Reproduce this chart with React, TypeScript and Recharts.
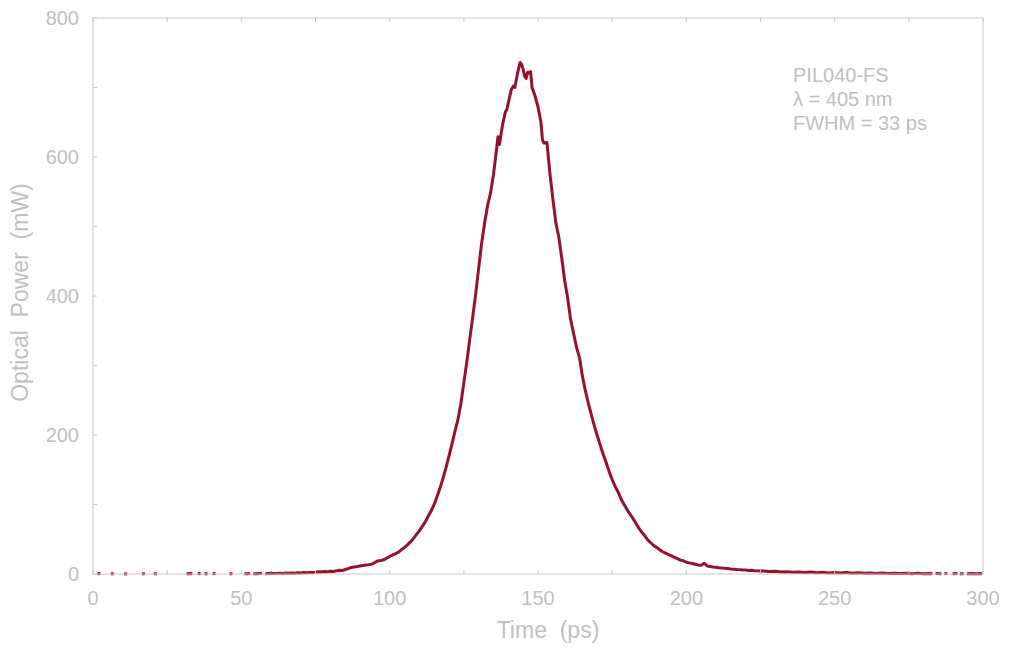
import React from 'react';
import { LineChart, Line, XAxis, YAxis } from 'recharts';

// time axis (ps); a null power marks a gap in the trace
const timePs = [
  1.5, 2.5, 4,
  6, 7, 8.5,
  10.5, 11.5, 13,
  16.5, 17.5, 19,
  20.5, 21.5, 26,
  31.5, 32.5, 33.5, 34.5,
  35.3, 36.3, 37,
  37.6, 38.6, 39.5,
  40.3, 41.3, 44,
  46, 47, 49,
  51, 52, 53, 53.5, 54, 55, 56, 57, 57.5,
  58, 59, 60, 61, 62, 63, 64, 65, 66, 67,
  68, 69, 70, 71, 72, 73, 74, 75, 76, 77,
  78, 79, 80, 81, 82, 83, 84, 85, 86, 87,
  88, 89, 90, 91, 92, 93, 94, 95, 96, 97,
  98, 99, 100, 101, 102, 103, 104, 105, 106, 107,
  108, 109, 110, 111, 112, 113, 114, 115, 116, 117,
  118, 119, 120, 121, 122, 123, 124, 125, 126, 127,
  128, 129, 130, 131, 132, 133, 134, 135,
  136, 136.5, 137, 138, 139, 139.5, 140, 141, 141.7, 142.2,
  143, 143.5, 144, 144.5, 145, 145.5, 146, 146.5, 147, 147.5,
  148, 149, 150, 151, 151.5, 152, 153, 154, 155, 156,
  157, 158, 159, 160, 161, 162, 163, 164, 165, 166,
  167, 168, 169, 170, 171, 172, 173, 174, 175, 176,
  177, 178, 179, 180, 181, 182, 183, 184, 185, 186,
  187, 188, 189, 190, 191, 192, 193, 194, 195, 196,
  197, 198, 199, 200, 201, 202, 203, 204, 205, 206,
  207, 208, 209, 210, 211, 212, 213, 214, 215, 216,
  217, 218, 219, 220, 221, 222, 223, 224, 225,
  226, 228, 230, 232, 234, 236, 238, 240, 242, 244,
  246, 248, 250, 252, 254, 256, 258, 260, 262, 264,
  266, 268, 270, 272, 274, 276, 278, 280, 282, 283, 283.5,
  284, 286, 286.5,
  287, 288, 289,
  289.7, 291.4, 291.8,
  292.2, 293.5, 294,
  294.6, 296, 297.5, 299, 299.7,
];

const powerMw = [
  0.3, 0.6, null,
  0.2, 0.4, null,
  0.3, 0.1, null,
  0.4, 0.2, null,
  0.3, 0.5, null,
  0.4, 0.7, 0.3, null,
  0.6, 0.2, null,
  0.4, 0.5, null,
  0.3, 0.6, null,
  0.4, 0.3, null,
  0.5, 0.3, 0.8, null, 0.5, 0.2, 0.6, 0.9, null,
  0.4, 0.7, 1.0, 0.6, 0.9, 1.2, 0.8, 1.3, 1.0, 1.5,
  1.2, 1.8, 1.4, 2.0, 1.7, 2.3, 2.0, 2.6, 3.3, 2.8,
  3.5, 3.1, 4.0, 3.6, 4.5, 5.3, 4.9, 6.5, 7.8, 9.5,
  10.2, 10.8, 11.6, 12.3, 12.9, 13.5, 14.2, 16.5, 18.8, 19.5,
  20.4, 22.8, 25.2, 27.5, 29.4, 31.5, 35.0, 38.3, 42.0, 46.2,
  51.0, 56.8, 62.0, 68.5, 75.0, 83.0, 91.0, 100, 112, 124,
  138, 153, 170, 187, 205, 222, 245, 275, 305, 338,
  370, 403, 440, 476, 505, 530, 548, 575,
  610, 629, 618, 645, 665, 668, 678, 697, 702, 700,
  718, 728, 736, 733, 726, 716, 713, 722, 721, 723,
  700, 688, 672, 650, 625, 620, 621, 577, 540, 506,
  485, 455, 422, 397, 366, 346, 326, 311, 284, 263,
  245, 229, 213, 199, 185, 172, 160, 147, 136, 126,
  118, 108, 100, 93, 86, 80, 73, 66, 60, 55,
  49, 45, 41, 38, 35, 32, 30, 28, 26, 24,
  22, 20, 19, 17, 16.0, 15.2, 14.0, 13.1, 12.4, 15.5,
  11.6, 10.9, 10.2, 9.7, 9.1, 8.7, 8.1, 7.9, 7.3, 7.0,
  6.6, 6.3, 5.9, 5.7, 5.2, 5.4, 4.8, 4.5, 4.3,
  4.2, 3.5, 4.0, 3.0, 3.4, 2.6, 3.0, 2.2, 2.8, 1.9,
  2.5, 1.6, 2.2, 1.4, 2.0, 1.2, 1.8, 1.0, 1.6, 0.9,
  1.4, 0.7, 1.2, 0.6, 1.1, 0.5, 1.0, 0.4, 0.8, 0.5, null,
  0.6, 0.3, null,
  0.5, 0.7, null,
  0.4, 0.6, null,
  0.3, 0.5, null,
  0.4, 0.7, 0.3, 0.6, 0.4,
];

const xTicks = [0, 25, 50, 75, 100, 125, 150, 175, 200, 225, 250, 275, 300];
const yTicks = [0, 100, 200, 300, 400, 500, 600, 700, 800];
const noteLines = ['PIL040-FS', 'λ = 405 nm', 'FWHM = 33 ps'];

const data = timePs.map((t, i) => ({ t, p: powerMw[i] }));

const FONT = '"Liberation Sans", Arial, sans-serif';
const TEXT = '#bfbfbf';
const AXIS = '#c8c8c8';

export default function App() {
  const tickStyle = { fill: TEXT, fontSize: 20, fontFamily: FONT };
  return (
    <div style={{ position: 'absolute', left: 0, top: 0, width: 1024, height: 653, background: '#fff' }}>
      <LineChart width={1024} height={653} data={data} margin={{ top: 17, right: 39, bottom: 39, left: 13 }}>
        <XAxis
          dataKey="t"
          type="number"
          domain={[0, 300]}
          ticks={xTicks}
          height={40}
          stroke={AXIS}
          tickSize={-4}
          tickMargin={21}
          tick={tickStyle}
          tickFormatter={(v: number) => (v % 50 === 0 ? String(v) : '')}
          interval={0}
        />
        <XAxis
          xAxisId="top"
          orientation="top"
          dataKey="t"
          type="number"
          domain={[0, 300]}
          ticks={xTicks}
          height={1}
          stroke={AXIS}
          tickSize={-4}
          tickFormatter={() => ''}
          interval={0}
        />
        <YAxis
          type="number"
          domain={[0, 800]}
          ticks={yTicks}
          width={80}
          stroke={AXIS}
          tickSize={-4}
          tickMargin={18}
          tick={tickStyle}
          tickFormatter={(v: number) => (v % 200 === 0 ? String(v) : '')}
          interval={0}
        />
        <YAxis
          yAxisId="right"
          orientation="right"
          type="number"
          domain={[0, 800]}
          ticks={yTicks}
          width={2}
          stroke={AXIS}
          tickSize={-4}
          tickFormatter={() => ''}
          interval={0}
        />
        <Line
          dataKey="p"
          stroke="#990f2e"
          strokeWidth={3}
          dot={false}
          activeDot={false}
          isAnimationActive={false}
          strokeLinejoin="round"
        />
      </LineChart>

      <div
        style={{
          position: 'absolute',
          left: 793,
          top: 63,
          fontFamily: FONT,
          fontSize: 20,
          lineHeight: '24px',
          color: TEXT,
          whiteSpace: 'pre',
        }}
      >
        {noteLines.map((s) => (
          <div key={s}>{s}</div>
        ))}
      </div>

      <div
        style={{
          position: 'absolute',
          left: 448,
          top: 619,
          width: 200,
          textAlign: 'center',
          fontFamily: FONT,
          fontSize: 23,
          lineHeight: '23px',
          color: TEXT,
          whiteSpace: 'pre',
        }}
      >
        {'Time  (ps)'}
      </div>

      <div
        style={{
          position: 'absolute',
          left: -130,
          top: 281,
          width: 300,
          height: 23,
          textAlign: 'center',
          fontFamily: FONT,
          fontSize: 23,
          lineHeight: '23px',
          color: TEXT,
          whiteSpace: 'pre',
          transform: 'rotate(-90deg)',
        }}
      >
        {'Optical  Power  (mW)'}
      </div>
    </div>
  );
}
